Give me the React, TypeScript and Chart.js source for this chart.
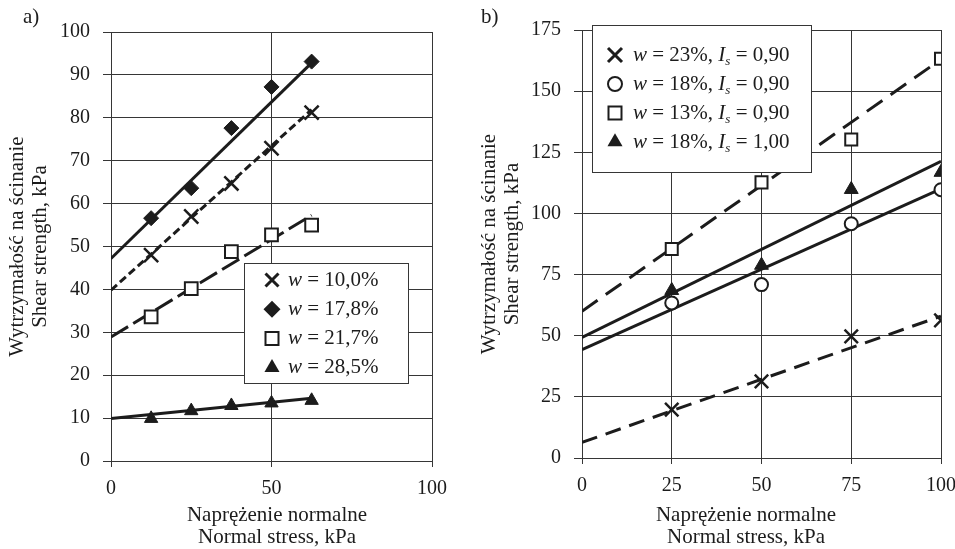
import React, { useEffect, useRef } from "react";
import { Chart, registerables } from "chart.js";

Chart.register(...registerables);

const FONT = "'Liberation Serif', 'Times New Roman', serif";
const INK = "#1c1c1c";
const GRID = "#363636";

// ---------- Panel a ----------
const stressA = [12.5, 25, 37.5, 50, 62.5];
const w100 = [48.0, 57.0, 64.7, 72.9, 81.2];
const w178 = [56.6, 63.6, 77.6, 87.2, 93.1];
const w217 = [33.6, 40.2, 48.8, 52.7, 55.0];
const w285 = [9.9, 11.7, 12.9, 13.5, 14.1];
const fitStressA = [0, 62.5];
const fitW100 = [39.8, 81.9];
const fitW178 = [47.2, 92.8];
const fitW217 = [28.9, 57.3];
const fitW285 = [9.9, 14.6];
const xTicksA = [0, 50, 100];
const yTicksA = [0, 10, 20, 30, 40, 50, 60, 70, 80, 90, 100];
const legendA = ["{w} = 10,0%", "{w} = 17,8%", "{w} = 21,7%", "{w} = 28,5%"];

// ---------- Panel b ----------
const stressB = [25, 50, 75, 100];
const w23 = [19.8, 31.3, 49.7, 56.3];
const w18 = [63.4, 70.9, 95.8, 109.7];
const w13 = [85.5, 112.7, 130.2, 163.2];
const w18Is100 = [68.5, 78.8, 109.8, 116.8];
const fitStressB = [0, 100];
const fitW23 = [6.4, 58.0];
const fitW18 = [44.3, 110.0];
const fitW13 = [60.0, 163.0];
const fitW18Is100 = [49.3, 121.3];
const xTicksB = [0, 25, 50, 75, 100];
const yTicksB = [0, 25, 50, 75, 100, 125, 150, 175];
const legendB = [
  "{w} = 23%, {I}[s] = 0,90",
  "{w} = 18%, {I}[s] = 0,90",
  "{w} = 13%, {I}[s] = 0,90",
  "{w} = 18%, {I}[s] = 1,00",
];

const yTitle = ["Wytrzymałość na ścinanie", "Shear strength, kPa"];
const xTitle = ["Naprężenie normalne", "Normal stress, kPa"];

type Run = { t: string; it?: boolean; sub?: boolean };
function parseRich(s: string): Run[] {
  const runs: Run[] = [];
  let buf = "";
  let i = 0;
  while (i < s.length) {
    const c = s[i];
    if (c === "{" || c === "[") {
      if (buf) {
        runs.push({ t: buf });
        buf = "";
      }
      const close = c === "{" ? "}" : "]";
      const j = s.indexOf(close, i);
      runs.push({ t: s.slice(i + 1, j), it: true, sub: c === "[" });
      i = j + 1;
    } else {
      buf += c;
      i++;
    }
  }
  if (buf) runs.push({ t: buf });
  return runs;
}

function drawMarker(ctx: CanvasRenderingContext2D, kind: string, x: number, y: number, r: number) {
  ctx.save();
  ctx.strokeStyle = INK;
  ctx.fillStyle = INK;
  ctx.beginPath();
  if (kind === "cross") {
    ctx.lineWidth = 3;
    ctx.moveTo(x - r, y - r);
    ctx.lineTo(x + r, y + r);
    ctx.moveTo(x + r, y - r);
    ctx.lineTo(x - r, y + r);
    ctx.stroke();
  } else if (kind === "diamond") {
    ctx.moveTo(x, y - r);
    ctx.lineTo(x + r, y);
    ctx.lineTo(x, y + r);
    ctx.lineTo(x - r, y);
    ctx.closePath();
    ctx.fill();
  } else if (kind === "square") {
    ctx.lineWidth = 2;
    ctx.fillStyle = "#fff";
    ctx.rect(x - r, y - r, 2 * r, 2 * r);
    ctx.fill();
    ctx.stroke();
  } else if (kind === "triangle") {
    ctx.moveTo(x, y - r);
    ctx.lineTo(x + r * 0.866, y + r / 2);
    ctx.lineTo(x - r * 0.866, y + r / 2);
    ctx.closePath();
    ctx.fill();
  } else if (kind === "circle") {
    ctx.lineWidth = 2;
    ctx.fillStyle = "#fff";
    ctx.arc(x, y, r, 0, Math.PI * 2);
    ctx.fill();
    ctx.stroke();
  }
  ctx.restore();
}

type LegendCfg = {
  x: number; y: number; w: number; h: number;
  markerX: number; textX: number; rowY: number; rowGap: number; fontSize: number;
  items: { marker: string; size: number; label: string }[];
  tag: string; tagX: number; tagY: number;
  xTitleX: number; xTitleY: number; xTitleGap: number;
};

function makeOverlay(cfg: LegendCfg) {
  return {
    id: "overlay",
    afterDatasetsDraw(chart: any) {
      const ctx: CanvasRenderingContext2D = chart.ctx;
      ctx.save();
      ctx.fillStyle = "#fff";
      ctx.fillRect(cfg.x, cfg.y, cfg.w, cfg.h);
      ctx.strokeStyle = GRID;
      ctx.lineWidth = 1;
      ctx.strokeRect(cfg.x + 0.5, cfg.y + 0.5, cfg.w, cfg.h);
      cfg.items.forEach((it, k) => {
        const y = cfg.rowY + k * cfg.rowGap;
        drawMarker(ctx, it.marker, cfg.markerX, y, it.size);
        let x = cfg.textX;
        ctx.textBaseline = "middle";
        ctx.textAlign = "left";
        ctx.fillStyle = INK;
        for (const r of parseRich(it.label)) {
          const fs = r.sub ? Math.round(cfg.fontSize * 0.62) : cfg.fontSize;
          ctx.font = `${r.it ? "italic " : ""}${fs}px ${FONT}`;
          ctx.fillText(r.t, x, r.sub ? y + cfg.fontSize * 0.3 : y);
          x += ctx.measureText(r.t).width;
        }
      });
      ctx.font = `21px ${FONT}`;
      ctx.textBaseline = "middle";
      ctx.textAlign = "left";
      ctx.fillStyle = INK;
      ctx.fillText(cfg.tag, cfg.tagX, cfg.tagY);
      // x-axis title (two lines)
      ctx.textAlign = "center";
      xTitle.forEach((line, k) => {
        ctx.fillText(line, cfg.xTitleX, cfg.xTitleY + k * cfg.xTitleGap);
      });
      ctx.restore();
    },
  };
}

function pts(xs: number[], ys: number[]) {
  return xs.map((x, i) => ({ x, y: ys[i] }));
}

function fitLine(xs: number[], ys: number[], dash: number[]) {
  return {
    data: pts(xs, ys),
    showLine: true,
    borderColor: INK,
    borderWidth: 3,
    borderDash: dash,
    pointRadius: 0,
    pointHoverRadius: 0,
    order: 2,
  };
}

function marks(xs: number[], ys: number[], style: string, r: number, fill: string, bw: number) {
  return {
    data: pts(xs, ys),
    showLine: false,
    pointStyle: style,
    pointRadius: r,
    pointHoverRadius: r,
    pointBackgroundColor: fill,
    pointBorderColor: INK,
    pointBorderWidth: bw,
    order: 1,
  };
}

function scales(
  xMax: number, xTicks: number[], yMax: number, yTicks: number[],
  yWidth: number, xHeight: number, yTitlePad: number
) {
  const tickFont = { family: FONT, size: 20 };
  return {
    x: {
      type: "linear",
      min: 0,
      max: xMax,
      afterBuildTicks: (s: any) => {
        s.ticks = xTicks.map((v) => ({ value: v }));
      },
      afterFit: (s: any) => {
        s.height = xHeight;
      },
      ticks: { font: tickFont, color: INK, padding: 10, maxRotation: 0 },
      grid: { color: GRID, lineWidth: 1, tickLength: 6 },
      border: { color: GRID, width: 1 },
      title: { display: false },
    },
    y: {
      type: "linear",
      min: 0,
      max: yMax,
      afterBuildTicks: (s: any) => {
        s.ticks = yTicks.map((v) => ({ value: v }));
      },
      afterFit: (s: any) => {
        s.width = yWidth;
      },
      ticks: { font: tickFont, color: INK, padding: 13 },
      grid: { color: GRID, lineWidth: 1, tickLength: 8 },
      border: { color: GRID, width: 1 },
      title: {
        display: true,
        text: yTitle,
        color: INK,
        font: { family: FONT, size: 21, lineHeight: 1.1 },
        padding: { top: yTitlePad, bottom: 0 },
      },
    },
  };
}

function configA(): any {
  return {
    type: "scatter",
    data: {
      datasets: [
        fitLine(fitStressA, fitW100, [8, 4]),
        fitLine(fitStressA, fitW178, []),
        fitLine(fitStressA, fitW217, [20, 6]),
        fitLine(fitStressA, fitW285, []),
        marks(stressA, w100, "crossRot", 10, INK, 2.5),
        marks(stressA, w178, "rectRot", 7.5, INK, 1),
        marks(stressA, w217, "rect", 9, "#fff", 2),
        marks(stressA, w285, "triangle", 7.7, INK, 1),
      ],
    },
    options: {
      responsive: false,
      animation: false,
      events: [],
      layout: { padding: { left: 0, top: 32, right: 46, bottom: 0 } },
      plugins: { legend: { display: false }, tooltip: { enabled: false } },
      scales: scales(100, xTicksA, 100, yTicksA, 111, 88, 6),
    },
    plugins: [
      makeOverlay({
        x: 244, y: 263, w: 164, h: 120,
        markerX: 272, textX: 288, rowY: 280, rowGap: 29.2, fontSize: 21,
        items: [
          { marker: "cross", size: 6.5, label: legendA[0] },
          { marker: "diamond", size: 8.5, label: legendA[1] },
          { marker: "square", size: 6.5, label: legendA[2] },
          { marker: "triangle", size: 8.7, label: legendA[3] },
        ],
        tag: "a)", tagX: 23, tagY: 17,
        xTitleX: 277, xTitleY: 515, xTitleGap: 22,
      }),
    ],
  };
}

function configB(): any {
  return {
    type: "scatter",
    data: {
      datasets: [
        fitLine(fitStressB, fitW23, [16, 9]),
        fitLine(fitStressB, fitW18, []),
        fitLine(fitStressB, fitW13, [19, 10]),
        fitLine(fitStressB, fitW18Is100, []),
        marks(stressB, w23, "crossRot", 9.5, INK, 2.5),
        marks(stressB, w18, "circle", 6.5, "#fff", 2),
        marks(stressB, w13, "rect", 8.5, "#fff", 2),
        marks(stressB, w18Is100, "triangle", 8, INK, 1),
      ],
    },
    options: {
      responsive: false,
      animation: false,
      events: [],
      layout: { padding: { left: 0, top: 30, right: 27, bottom: 0 } },
      plugins: { legend: { display: false }, tooltip: { enabled: false } },
      scales: scales(100, xTicksB, 175, yTicksB, 104, 91, 0),
    },
    plugins: [
      makeOverlay({
        x: 114, y: 25, w: 219, h: 147,
        markerX: 137, textX: 155, rowY: 55, rowGap: 29, fontSize: 21,
        items: [
          { marker: "cross", size: 7, label: legendB[0] },
          { marker: "circle", size: 7, label: legendB[1] },
          { marker: "square", size: 6.5, label: legendB[2] },
          { marker: "triangle", size: 8.7, label: legendB[3] },
        ],
        tag: "b)", tagX: 3, tagY: 17,
        xTitleX: 268, xTitleY: 515, xTitleGap: 22,
      }),
    ],
  };
}

function Panel({ make, left, width }: { make: () => any; left: number; width: number }) {
  const ref = useRef<HTMLCanvasElement>(null);
  useEffect(() => {
    const chart = new Chart(ref.current as HTMLCanvasElement, make());
    return () => chart.destroy();
  }, []);
  return (
    <canvas
      ref={ref}
      width={width}
      height={549}
      style={{ position: "absolute", left, top: 0, width, height: 549 }}
    />
  );
}

export default function App() {
  return (
    <div
      style={{
        position: "absolute",
        left: 0,
        top: 0,
        width: 955,
        height: 549,
        background: "#fff",
        overflow: "hidden",
      }}
    >
      <Panel make={configA} left={0} width={478} />
      <Panel make={configB} left={478} width={490} />
    </div>
  );
}
